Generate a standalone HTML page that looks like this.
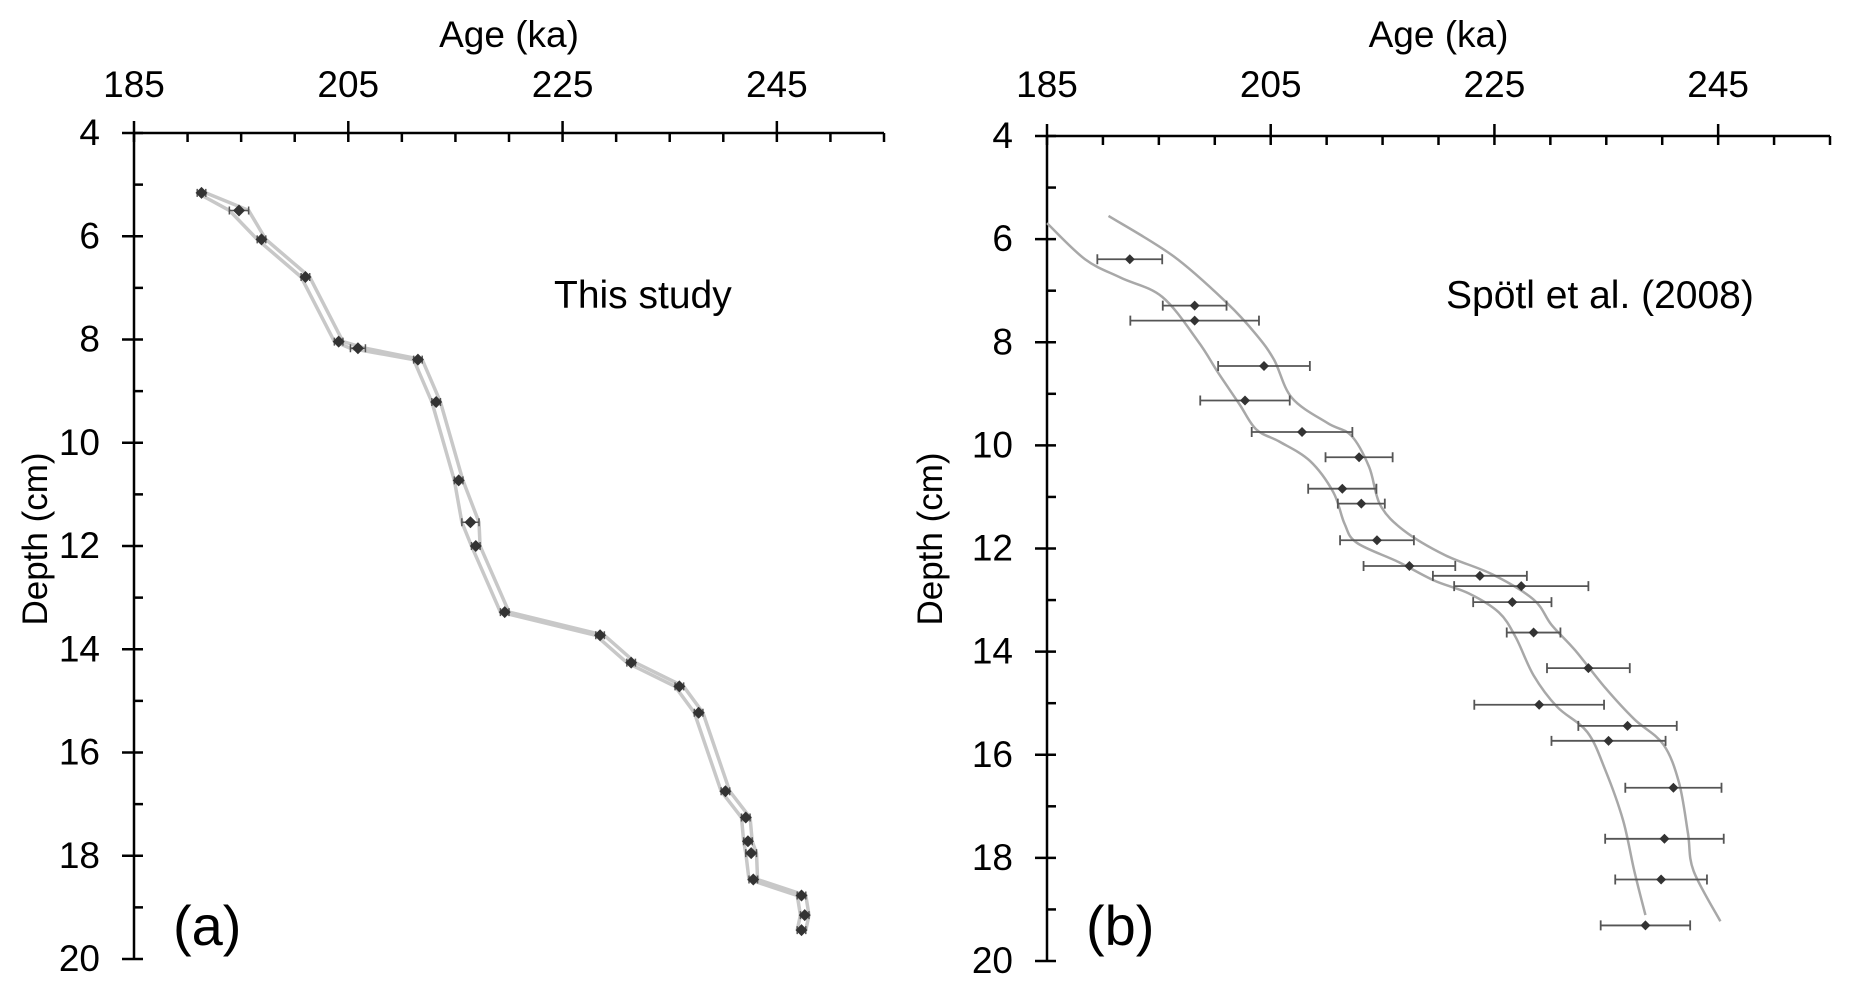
<!DOCTYPE html>
<html><head><meta charset="utf-8">
<style>
html,body{margin:0;padding:0;background:#fff;}
svg{display:block;font-family:"Liberation Sans",Arial,sans-serif;}
</style></head>
<body>
<svg id="chart" width="1853" height="989" viewBox="0 0 1853 989" xmlns="http://www.w3.org/2000/svg">
<g id="pa"></g>
<g id="pb"></g>
</svg>
<script>
// Panel (a) data: This study
const ageA = [191.3,194.8,196.9,201.0,204.1,205.9,211.5,213.2,215.3,216.4,216.9,219.6,228.5,231.4,235.9,237.7,240.2,242.1,242.3,242.6,242.8,247.3,247.6,247.3];
const depthA = [5.16,5.5,6.06,6.79,8.04,8.17,8.39,9.21,10.73,11.54,12.0,13.28,13.73,14.26,14.72,15.23,16.75,17.26,17.72,17.95,18.46,18.77,19.15,19.44];
const errA = [0.4,0.9,0.4,0.4,0.4,0.7,0.4,0.4,0.4,0.8,0.4,0.4,0.4,0.4,0.4,0.4,0.4,0.4,0.4,0.5,0.4,0.4,0.4,0.4];
// Panel (b) data: Spötl et al. (2008)
const ageB = [192.4,198.2,198.2,204.4,202.7,207.8,212.9,211.4,213.1,214.5,217.4,223.7,227.4,226.6,228.5,233.4,229.0,236.9,235.2,241.0,240.2,239.9,238.5];
const depthB = [6.39,7.29,7.58,8.46,9.13,9.74,10.23,10.84,11.13,11.84,12.34,12.53,12.73,13.04,13.63,14.32,15.03,15.44,15.73,16.64,17.63,18.42,19.31];
const errB = [2.9,2.85,5.75,4.1,4.0,4.5,3.0,3.05,2.1,3.3,4.1,4.2,6.0,3.5,2.4,3.7,5.8,4.4,5.1,4.3,5.3,4.1,4.0];
const envRightAge = [190.5,196.3,201.1,203.7,205.3,206.9,210.1,212.2,213.8,214.8,216.9,220.6,224.8,228.5,230.1,232.2,234.9,237.5,240.1,241.5,242.3,242.8,245.2];
const envRightDepth = [5.55,6.33,7.24,7.85,8.34,9.08,9.57,9.81,10.42,11.16,11.65,12.13,12.5,12.99,13.48,13.97,14.7,15.31,15.8,16.54,17.52,18.25,19.23];
const envLeftAge = [185,188.4,191.6,195.3,198.5,200.3,202.2,203.7,205.8,208.5,210.6,211.6,212.7,216.4,219.6,222.7,225.4,226.9,228.5,230.6,233.3,234.9,236.5,237.5,238.5];
const envLeftDepth = [5.69,6.39,6.75,7.12,7.98,8.59,9.2,9.69,9.93,10.3,10.91,11.52,11.89,12.26,12.62,12.87,13.24,13.72,14.46,15.07,15.56,16.29,17.27,18.25,19.11];
const xTickLabels = [185,205,225,245];
const yTickLabels = [4,6,8,10,12,14,16,18,20];

const NS="http://www.w3.org/2000/svg";
function mk(parent,tag,attrs){const e=document.createElementNS(NS,tag);for(const k in attrs)e.setAttribute(k,attrs[k]);parent.appendChild(e);return e;}

function axes(g,P,label,note,noteX,titleX,labelRight){
  const sx=a=>P.x0+(a-185)/(255-185)*(P.x1-P.x0);
  const sy=d=>P.y0+(d-4)/16*(P.y1-P.y0);
  const xl=mk(g,'line',{x1:P.x0,y1:P.y0,x2:P.x1,y2:P.y0,stroke:'#000','stroke-width':2.5});
  
  
  const yl=mk(g,'line',{x1:P.x0,y1:P.y0,x2:P.x0,y2:P.y1,stroke:'#000','stroke-width':2.5});
  
  
  for(let a=185;a<=255;a+=5){
    const major=(a-185)%20===0;
    const t=mk(g,'line',{x1:sx(a),x2:sx(a),y1:major?P.y0-12:P.y0,y2:P.y0+9,stroke:'#000','stroke-width':2.5});
    
    
  }
  xTickLabels.forEach(v=>{
    const t=mk(g,'text',{x:sx(v),y:97,'font-size':37,'text-anchor':'middle'});t.textContent=v;
    
    
  });
  for(let d=4;d<=20;d++){
    const major=d%2===0;
    const t=mk(g,'line',{x1:major?P.x0-12:P.x0,x2:P.x0+9,y1:sy(d),y2:sy(d),stroke:'#000','stroke-width':2.5});
    
    
  }
  yTickLabels.forEach(v=>{
    const t=mk(g,'text',{x:labelRight,y:sy(v)+12,'font-size':37,'text-anchor':'end'});t.textContent=v;
    
    
  });
  const xt=mk(g,'text',{x:(P.x0+P.x1)/2,y:47,'font-size':37,'text-anchor':'middle'});xt.textContent='Age (ka)';
  
  
  const yt=mk(g,'text',{x:0,y:0,'font-size':35,'text-anchor':'middle',transform:`translate(${titleX+12},539) rotate(-90)`});yt.textContent='Depth (cm)';
  
  
  const nt=mk(g,'text',{x:noteX,y:308,'font-size':39});nt.textContent=note;
  
  
  const pl=mk(g,'text',{x:P.x0+39,y:945,'font-size':56});pl.textContent=label;
  
  
  return {sx,sy};
}
function diamond(g,x,y,r){
  const d=mk(g,'path',{d:`M${x} ${y-r}L${x+r} ${y}L${x} ${y+r}L${x-r} ${y}Z`,fill:'#333'});
  
  
}

// Panel A
(function(){
  const g=document.getElementById('pa');
  const P={x0:134,x1:884,y0:133,y1:959};
  const {sx,sy}=axes(g,P,'(a)','This study',554,35,100);
  const left=ageA.map((a,i)=>sx(a-errA[i])+','+sy(depthA[i])).join(' ');
  const right=ageA.map((a,i)=>sx(a+errA[i])+','+sy(depthA[i])).join(' ');
  const l1=mk(g,'polyline',{points:left,fill:'none',stroke:'#c8c8c8','stroke-width':3.5});
  
  
  const l2=mk(g,'polyline',{points:right,fill:'none',stroke:'#c8c8c8','stroke-width':3.5});
  
  
  ageA.forEach((a,i)=>{
    const y=sy(depthA[i]);
    const e=mk(g,'path',{d:`M${sx(a-errA[i])} ${y}H${sx(a+errA[i])}M${sx(a-errA[i])} ${y-4}V${y+4}M${sx(a+errA[i])} ${y-4}V${y+4}`,stroke:'#555','stroke-width':1.5,fill:'none'});
    
    
    diamond(g,sx(a),y,6);
  });
})();

// Panel B
(function(){
  const g=document.getElementById('pb');
  const P={x0:1047,x1:1830,y0:136,y1:961};
  const {sx,sy}=axes(g,P,'(b)','Spötl et al. (2008)',1446,930,1013);
  function smooth(ax,dy){
    const p=ax.map((a,i)=>[sx(a),sy(dy[i])]);
    let d=`M${p[0][0]} ${p[0][1]}`;
    for(let i=0;i<p.length-1;i++){
      const p0=p[i-1]||p[i],p1=p[i],p2=p[i+1],p3=p[i+2]||p2;
      d+=`C${p1[0]+(p2[0]-p0[0])/6} ${p1[1]+(p2[1]-p0[1])/6} ${p2[0]-(p3[0]-p1[0])/6} ${p2[1]-(p3[1]-p1[1])/6} ${p2[0]} ${p2[1]}`;
    }
    return d;
  }
  const c1=mk(g,'path',{d:smooth(envLeftAge,envLeftDepth),fill:'none',stroke:'#a8a8a8','stroke-width':2.5});
  
  
  const c2=mk(g,'path',{d:smooth(envRightAge,envRightDepth),fill:'none',stroke:'#a8a8a8','stroke-width':2.5});
  
  
  ageB.forEach((a,i)=>{
    const y=sy(depthB[i]);
    const x1=sx(a-errB[i]),x2=sx(a+errB[i]);
    const e=mk(g,'path',{d:`M${x1} ${y}H${x2}M${x1} ${y-5}V${y+5}M${x2} ${y-5}V${y+5}`,stroke:'#555','stroke-width':1.8,fill:'none'});
    
    
    diamond(g,sx(a),y,5);
  });
})();
</script>
</body></html>
